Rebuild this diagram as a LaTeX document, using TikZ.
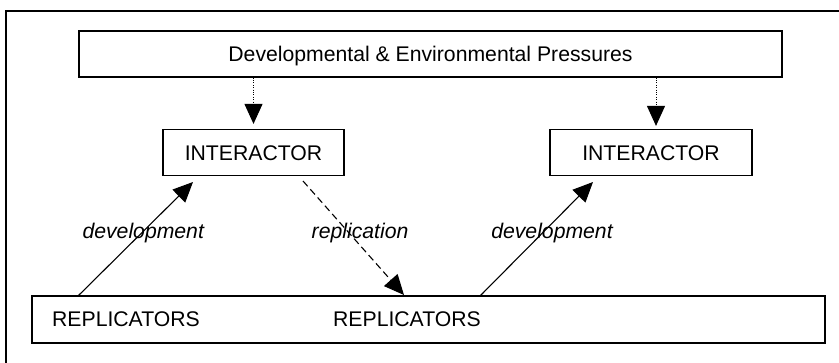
\documentclass[tikz,border=0pt]{standalone}
\usepackage{fontspec}
\setmainfont{Liberation Sans}
\usetikzlibrary{arrows.meta}
\tikzstyle{box}=[draw,rectangle,line width=1.2pt,inner sep=0pt,text height=15pt,text depth=0pt]
\tikzstyle{plain}=[inner sep=0pt,text height=15pt,text depth=0pt]
\tikzstyle{edge} = [draw,line width=1.1pt,-{Triangle[length=20pt,width=18pt]}]
\tikzstyle{dotedge} = [edge,line width=1pt,dash pattern=on 1pt off 1.4pt]
\tikzstyle{dashedge} = [edge,dash pattern=on 7pt off 4pt]
\tikzstyle{tag} = [font=\fontsize{21.2}{25}\selectfont\itshape,inner sep=0pt]

\begin{document}
\begin{tikzpicture}[x=1pt,y=-1pt,font=\fontsize{21.2}{25}\selectfont]

    \useasboundingbox (0,0) rectangle (839,362);
    \clip (0,0) rectangle (839,362);
    \draw[line width=1.2pt] (6,11) rectangle (870,380);

    \node[box, minimum width=703pt, minimum height=46pt] (pressures) at (430.5,54) {Developmental \& Environmental Pressures};

    \foreach \x/\w/\name in {253.5/181/int1, 651/202/int2}
        \node[box, minimum width=\w pt, minimum height=46pt] (\name) at (\x,152.5) {INTERACTOR};

    \node[box, minimum width=793pt, minimum height=47pt] (reps) at (428.5,319.5) {};
    \foreach \x/\name in {126/rep1, 407/rep2}
        \node[plain] (\name) at (\x,319) {REPLICATORS};

    \foreach \x/\y/\name in {78/296/dev1a, 193/182/dev1b, 303/181/repa, 404/295/repb, 480/296/dev2a, 593/182/dev2b}
        \coordinate (\name) at (\x,\y);
    \coordinate (top2) at ([xshift=5pt]int2.north);

    \path[dotedge, shorten >=5pt] (pressures.south -| int1.north) -- (int1.north);
    \path[dotedge, shorten >=3pt] (pressures.south -| top2) -- (top2);

    \path[edge] (dev1a) -- node[tag, pos=0.55, xshift=2pt] {development} (dev1b);
    \path[dashedge] (repa) -- node[tag, pos=0.456, xshift=11pt] {replication} (repb);
    \path[edge] (dev2a) -- node[tag, pos=0.553, xshift=9.5pt] {development} (dev2b);

\end{tikzpicture}
\end{document}
